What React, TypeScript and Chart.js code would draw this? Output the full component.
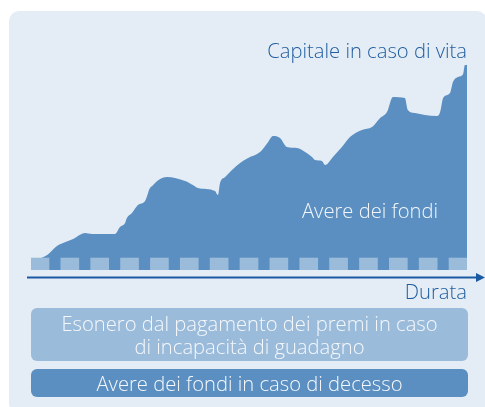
import React, { useEffect, useRef } from "react";
import { Chart, registerables } from "chart.js";

Chart.register(...registerables);

// Duration (years, arbitrary units) and fund value (index)
const durationX = [
  0.0, 0.3, 0.54, 0.87, 1.07, 1.41, 1.81, 2.04, 2.41, 2.81, 2.98, 3.15, 3.21, 3.38, 3.58, 3.82,
  3.92, 3.95, 4.09, 4.32, 4.55, 5.16, 5.42, 5.59, 6.16, 6.26, 6.33, 6.5, 6.73, 7.0, 7.27, 7.67,
  7.94, 8.1, 8.34, 8.57, 8.91, 9.18, 9.41, 9.51, 9.74, 9.85, 10.11, 10.41, 10.68, 11.08, 11.42,
  11.69, 11.92, 12.12, 12.52, 12.62, 12.86, 13.19, 13.6, 13.7, 13.8, 14.03, 14.13, 14.3, 14.47,
  14.53, 14.6,
];
const fundValue = [
  0.95, 5.24, 7.14, 11.43, 12.86, 14.76, 17.62, 17.14, 17.14, 17.14, 20.48, 22.38, 24.76, 27.14,
  30.95, 32.86, 36.67, 38.1, 40.48, 43.33, 44.29, 42.38, 40.48, 39.05, 37.62, 35.71, 41.43, 44.29,
  47.62, 50.95, 53.33, 56.19, 60.95, 63.81, 62.86, 58.57, 58.1, 56.19, 53.81, 52.38, 51.9, 50.0,
  53.81, 58.57, 63.33, 66.67, 68.1, 72.38, 75.24, 82.38, 81.9, 76.19, 74.76, 73.81, 73.33, 75.24,
  81.9, 84.29, 89.52, 91.9, 93.33, 97.62, 97.62,
];
// Premium payments (one per period)
const premiumTimes = [0.3, 1.3, 2.3, 3.3, 4.3, 5.3, 6.3, 7.3, 8.3, 9.3, 10.3, 11.3, 12.3, 13.3, 14.3];
const premiumHeight = 5.7;

const labels = {
  capital: "Capitale in caso di vita",
  fund: "Avere dei fondi",
  duration: "Durata",
  waiver1: "Esonero dal pagamento dei premi in caso",
  waiver2: "di incapacità di guadagno",
  death: "Avere dei fondi in caso di decesso",
};

const DARK = "#1f5c9e";
const AREA = "#5b8fc1";
const LIGHT = "#9bbbdb";
const PANEL = "#e4edf5";
const FONT = "'Open Sans', 'DejaVu Sans', sans-serif";
const FS = 20.2;

const arrowPlugin = {
  id: "durationArrow",
  afterDraw(chart: any) {
    const ctx = chart.ctx;
    const y = chart.chartArea.bottom + 7.5;
    ctx.save();
    ctx.strokeStyle = "#1a5aa3";
    ctx.fillStyle = "#1a5aa3";
    ctx.lineWidth = 2;
    ctx.beginPath();
    ctx.moveTo(27, y);
    ctx.lineTo(478, y);
    ctx.stroke();
    ctx.beginPath();
    ctx.moveTo(476, y - 4.5);
    ctx.lineTo(485, y);
    ctx.lineTo(476, y + 4.5);
    ctx.closePath();
    ctx.fill();
    ctx.restore();
  },
};

export default function App() {
  const ref = useRef<HTMLCanvasElement>(null);

  useEffect(() => {
    if (!ref.current) return;
    const chart = new Chart(ref.current, {
      type: "line",
      data: {
        datasets: [
          {
            type: "bar",
            data: premiumTimes.map((t) => ({ x: t, y: [0, premiumHeight] })) as any,
            backgroundColor: LIGHT,
            borderWidth: 0,
            barThickness: 18,
            order: 0,
          } as any,
          {
            type: "line",
            data: durationX.map((x, i) => ({ x, y: fundValue[i] })),
            backgroundColor: AREA,
            borderWidth: 0,
            borderColor: AREA,
            pointRadius: 0,
            fill: "origin",
            cubicInterpolationMode: "monotone",
            order: 1,
          },
        ],
      },
      options: {
        responsive: false,
        animation: false,
        events: [],
        layout: { padding: { left: 31, right: 18, top: 60, bottom: 137 } },
        plugins: { legend: { display: false }, tooltip: { enabled: false }, title: { display: false } },
        scales: {
          x: { type: "linear", min: 0, max: 14.6, display: false, offset: false },
          y: { type: "linear", min: 0, max: 100, display: false },
        },
      },
      plugins: [arrowPlugin],
    });
    return () => chart.destroy();
  }, []);

  const base: React.CSSProperties = {
    position: "absolute",
    fontFamily: FONT,
    fontSize: FS,
    fontWeight: 300,
    lineHeight: "19px",
    whiteSpace: "nowrap",
  };

  return (
    <div style={{ position: "fixed", left: 0, top: 0, width: 485, height: 407, overflow: "hidden", background: "#fff" }}>
      <div style={{ position: "absolute", left: 9, top: 11, width: 478, height: 402, background: PANEL, borderRadius: 10 }} />
      <canvas ref={ref} width={485} height={407} style={{ position: "absolute", left: 0, top: 0, width: 485, height: 407 }} />
      <div style={{ ...base, right: 485 - 467, top: 41, color: DARK }}>{labels.capital}</div>
      <div style={{ ...base, left: 302, top: 201, color: "#f2f6fa" }}>{labels.fund}</div>
      <div style={{ ...base, right: 485 - 467, top: 282, color: DARK }}>{labels.duration}</div>
      <div
        style={{
          position: "absolute", left: 31, top: 308, width: 437, height: 53, background: LIGHT, borderRadius: 6,
          display: "flex", flexDirection: "column", alignItems: "center", justifyContent: "center",
          fontFamily: FONT, fontSize: FS, fontWeight: 300, lineHeight: "23px", color: "#f5f8fb", textAlign: "center",
        }}
      >
        <div>{labels.waiver1}</div>
        <div>{labels.waiver2}</div>
      </div>
      <div
        style={{
          position: "absolute", left: 31, top: 369, width: 437, height: 28, background: AREA, borderRadius: 6,
          display: "flex", alignItems: "center", justifyContent: "center",
          fontFamily: FONT, fontSize: FS, fontWeight: 300, lineHeight: "28px", color: "#f5f8fb",
        }}
      >
        {labels.death}
      </div>
    </div>
  );
}
